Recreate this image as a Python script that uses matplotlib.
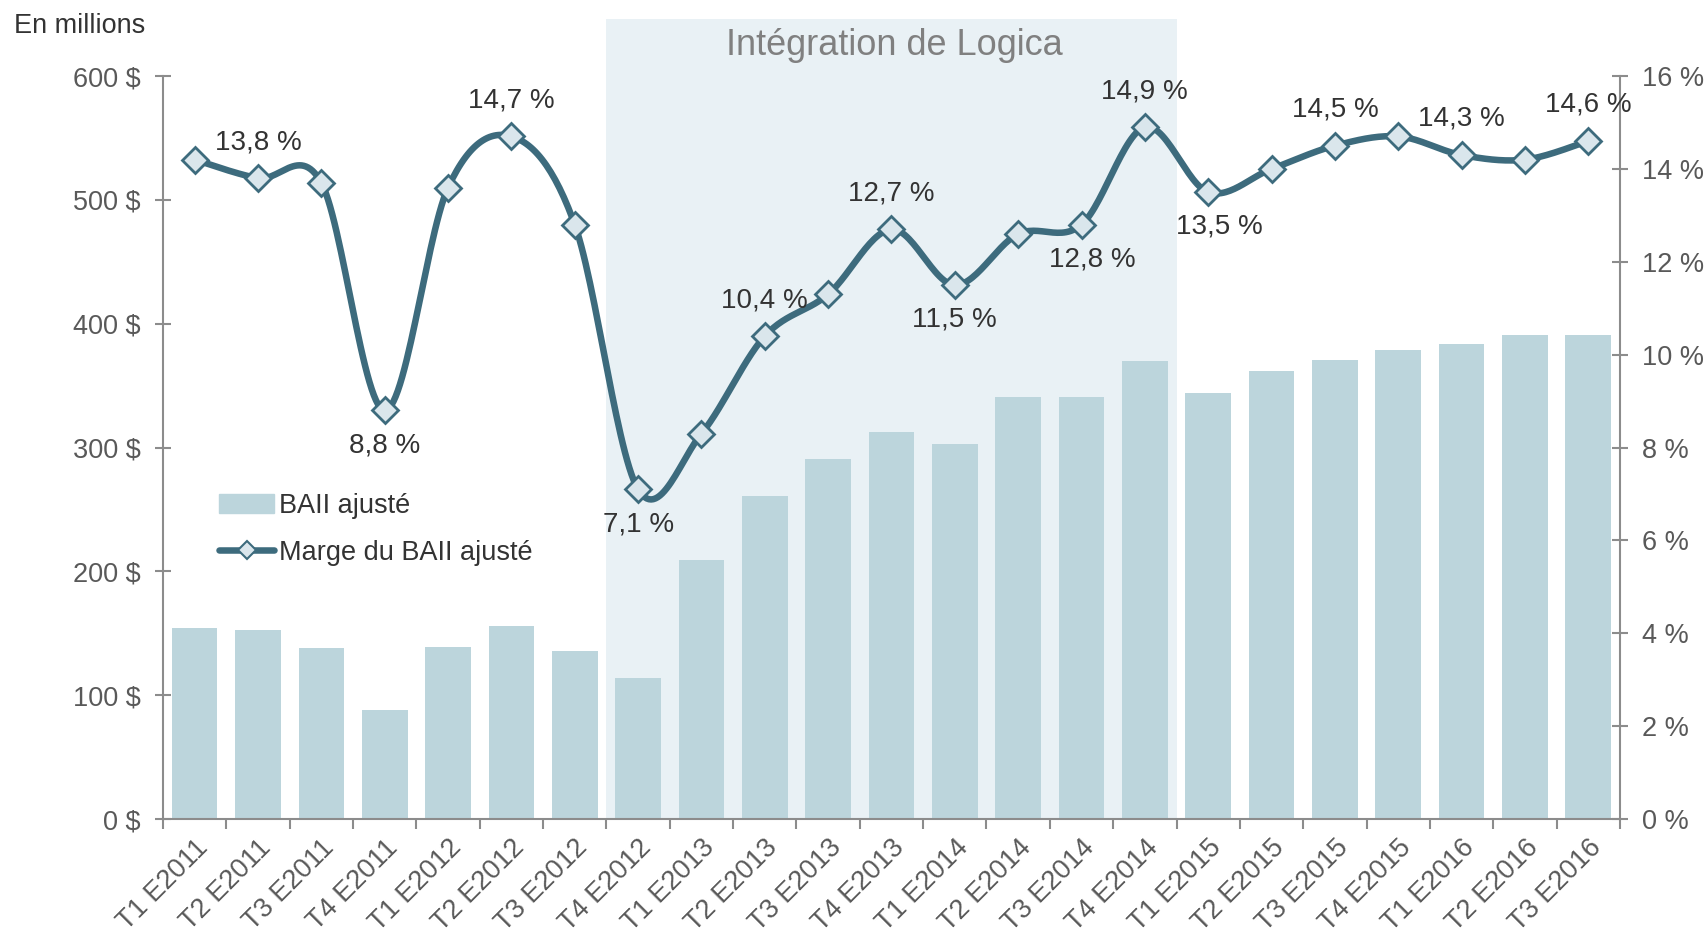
import numpy as np
import matplotlib.pyplot as plt
from matplotlib.lines import Line2D
from matplotlib.patches import Patch, Rectangle
import matplotlib.transforms as mtransforms

plt.rcParams['font.family'] = ['Liberation Sans', 'DejaVu Sans']

quarters = ['T1 E2011', 'T2 E2011', 'T3 E2011', 'T4 E2011',
            'T1 E2012', 'T2 E2012', 'T3 E2012', 'T4 E2012',
            'T1 E2013', 'T2 E2013', 'T3 E2013', 'T4 E2013',
            'T1 E2014', 'T2 E2014', 'T3 E2014', 'T4 E2014',
            'T1 E2015', 'T2 E2015', 'T3 E2015', 'T4 E2015',
            'T1 E2016', 'T2 E2016', 'T3 E2016']
baii = [154, 153, 138, 88, 139, 156, 136, 114, 209, 261, 291, 313,
        303, 341, 341, 370, 344, 362, 371, 379, 384, 391, 391]
marge = [14.2, 13.8, 13.7, 8.8, 13.6, 14.7, 12.8, 7.1, 8.3, 10.4, 11.3, 12.7,
         11.5, 12.6, 12.8, 14.9, 13.5, 14.0, 14.5, 14.7, 14.3, 14.2, 14.6]
# labelled points: index -> above / below
labels = {1: 'up', 3: 'down', 5: 'up', 7: 'down', 9: 'up', 11: 'up', 12: 'down',
          14: 'down', 15: 'up', 16: 'down', 18: 'up', 20: 'up', 22: 'up'}

bar_col = '#bcd5dc'
line_col = '#3d6b7d'
axis_col = '#8c8c8c'
tick_txt = '#595959'
fs = 19.5

fig = plt.figure(figsize=(17.07, 9.33), dpi=100)
ax = fig.add_axes([0.0955, 0.122, 0.8535, 0.7965])
ax2 = ax.twinx()

x = np.arange(len(quarters))

# shaded period (Logica)
trans = mtransforms.blended_transform_factory(ax.transData, ax.transAxes)
ax.add_patch(Rectangle((6.5, 0), 9, 1.077, transform=trans, color='#e9f1f5',
                       zorder=0, clip_on=False, lw=0))
fig.text(0.524, 0.951, 'Intégration de Logica', ha='center', va='center',
         fontsize=26, color='#808080')

ax.bar(x, baii, width=0.72, color=bar_col, zorder=2)
ax.set_xlim(-0.5, len(quarters) - 0.5)
ax.set_ylim(0, 600)
ax.set_yticks(range(0, 601, 100))
ax.set_yticklabels([f'{v} $' for v in range(0, 601, 100)])

# smooth line (bezier smoothing like Excel)
pts = np.column_stack([x, marge]).astype(float)
curve = []
n = len(pts)
for i in range(n - 1):
    p0 = pts[max(i - 1, 0)]
    p1 = pts[i]
    p2 = pts[i + 1]
    p3 = pts[min(i + 2, n - 1)]
    c1 = p1 + (p2 - p0) / 6
    c2 = p2 - (p3 - p1) / 6
    t = np.linspace(0, 1, 30)[:, None]
    seg = (1 - t) ** 3 * p1 + 3 * (1 - t) ** 2 * t * c1 + 3 * (1 - t) * t ** 2 * c2 + t ** 3 * p2
    curve.append(seg)
curve = np.vstack(curve)
ax2.plot(curve[:, 0], curve[:, 1], color=line_col, lw=4.7, solid_capstyle='round', zorder=3)
ax2.plot(x, marge, ls='none', marker='D', ms=13, mfc='#dae6ec', mec=line_col, mew=2, zorder=4)
ax2.set_ylim(0, 16)
ax2.set_yticks(range(0, 17, 2))
ax2.set_yticklabels([f'{v} %' for v in range(0, 17, 2)])

for i, pos in labels.items():
    txt = f'{marge[i]:.1f} %'.replace('.', ',')
    dx = 8 if i in (14, 16) else 0
    dy = 26 if pos == 'up' else -25
    ax2.annotate(txt, (x[i], marge[i]), xytext=(dx, dy), textcoords='offset points',
                 ha='center', va='center', fontsize=20, color='#333333', zorder=5)

# axes styling
for a in (ax, ax2):
    a.spines['top'].set_visible(False)
    for s in ('left', 'right', 'bottom'):
        a.spines[s].set_color(axis_col)
        a.spines[s].set_linewidth(1.5)
ax.spines['right'].set_visible(False)
ax2.spines['left'].set_visible(False)
ax2.spines['bottom'].set_visible(False)

ax.tick_params(axis='y', direction='inout', length=12, width=1.5, color=axis_col,
               labelsize=fs, labelcolor=tick_txt, pad=10)
ax2.tick_params(axis='y', direction='inout', length=12, width=1.5, color=axis_col,
                labelsize=fs, labelcolor=tick_txt, pad=10)

ax.set_xticks(np.arange(-0.5, len(quarters), 1))
ax.set_xticklabels([])
ax.tick_params(axis='x', which='major', direction='out', length=7, width=1.5, color=axis_col)
ax.set_xticks(x, minor=True)
ax.set_xticklabels(quarters, minor=True, rotation=45, ha='right', rotation_mode='anchor',
                   fontsize=fs, color=tick_txt)
ax.tick_params(axis='x', which='minor', length=0, pad=11)

fig.text(0.008, 0.972, 'En millions', ha='left', va='center', fontsize=fs, color='#333333')

handles = [Patch(color=bar_col),
           Line2D([], [], color=line_col, lw=4.7, marker='D', ms=9, mfc='#dae6ec',
                  mec=line_col, mew=1.5, solid_capstyle='round')]
ax2.legend(handles, ['BAII ajusté', 'Marge du BAII ajusté'], loc='center left',
           bbox_to_anchor=(0.022, 0.39), frameon=False, fontsize=fs, labelcolor='#333333',
           handlelength=2.0, handletextpad=0.2, labelspacing=0.75)

fig.savefig('out.png', dpi=100)
